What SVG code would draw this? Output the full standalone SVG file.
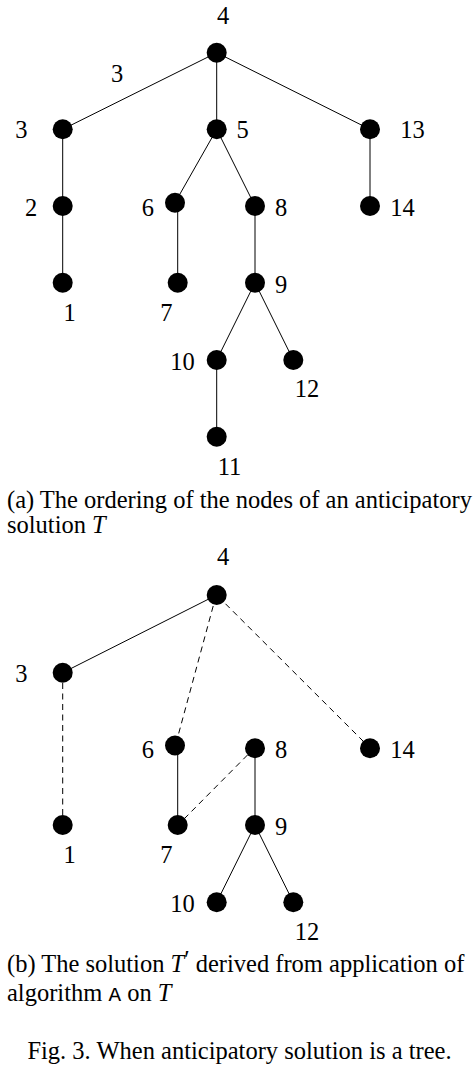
<svg xmlns="http://www.w3.org/2000/svg" width="474" height="1067" viewBox="0 0 474 1067">
<style>
text{font-family:"Liberation Serif","Times New Roman",serif;font-size:24.5px;fill:#000}
.lbl{text-anchor:middle}
.n{fill:#000}
.e{stroke:#000;stroke-width:1;fill:none}
.d{stroke:#000;stroke-width:1;fill:none;stroke-dasharray:6 4.5}
.it{font-style:italic}
.tt{font-family:"Liberation Mono","Courier New",monospace;font-size:21px}
</style>
<rect width="474" height="1067" fill="#fff"/>
<g id="connectors">
<!-- tree (a) -->
<line class="e" x1="216.7" y1="52.7" x2="62.7" y2="129.3"/>
<line class="e" x1="216.7" y1="52.7" x2="216.7" y2="129.3"/>
<line class="e" x1="216.7" y1="52.7" x2="370" y2="129.3"/>
<line class="e" x1="62.7" y1="129.3" x2="62.7" y2="206"/>
<line class="e" x1="62.7" y1="206" x2="62.7" y2="282.7"/>
<line class="e" x1="216.7" y1="129.3" x2="175" y2="202.7"/>
<line class="e" x1="216.7" y1="129.3" x2="255" y2="206"/>
<line class="e" x1="370" y1="129.3" x2="370" y2="206"/>
<line class="e" x1="177.7" y1="206" x2="177.7" y2="282.7"/>
<line class="e" x1="255" y1="206" x2="255" y2="282.7"/>
<line class="e" x1="255" y1="282.7" x2="216.7" y2="360"/>
<line class="e" x1="255" y1="282.7" x2="293.3" y2="360"/>
<line class="e" x1="216.7" y1="360" x2="216.7" y2="436.7"/>
<!-- tree (b) -->
<line class="e" x1="216.7" y1="595" x2="62.7" y2="672.7"/>
<line class="d" x1="213.2" y1="606" x2="178" y2="736"/>
<line class="d" x1="225.5" y1="603.8" x2="363" y2="741"/>
<line class="d" x1="62.7" y1="683" x2="62.7" y2="815"/>
<line class="e" x1="177.7" y1="748" x2="177.7" y2="825"/>
<line class="d" x1="247.5" y1="755" x2="185" y2="818"/>
<line class="e" x1="255" y1="748.3" x2="255" y2="825"/>
<line class="e" x1="255" y1="825" x2="216.7" y2="902.3"/>
<line class="e" x1="255" y1="825" x2="293.3" y2="902.3"/>
</g>
<g id="edge-label-a"><text class="lbl" x="117" y="81.7">3</text></g>
<!-- tree (a) nodes -->
<g id="a4"><circle class="n" cx="216.7" cy="52.7" r="10"/><text class="lbl" x="223" y="24">4</text></g>
<g id="a3"><circle class="n" cx="62.7" cy="129.3" r="10"/><text class="lbl" x="21.3" y="138.3">3</text></g>
<g id="a5"><circle class="n" cx="216.7" cy="129.3" r="10"/><text class="lbl" x="242.5" y="138.3">5</text></g>
<g id="a13"><circle class="n" cx="370" cy="129.3" r="10"/><text class="lbl" x="412.5" y="138.3">13</text></g>
<g id="a2"><circle class="n" cx="62.7" cy="206" r="10"/><text class="lbl" x="31.2" y="216">2</text></g>
<g id="a6"><circle class="n" cx="175" cy="202.7" r="10"/><text class="lbl" x="147.8" y="216">6</text></g>
<g id="a8"><circle class="n" cx="255" cy="206" r="10"/><text class="lbl" x="281" y="216">8</text></g>
<g id="a14"><circle class="n" cx="370" cy="206" r="10"/><text class="lbl" x="402.5" y="216">14</text></g>
<g id="a1"><circle class="n" cx="62.7" cy="282.7" r="10"/><text class="lbl" x="69.5" y="320.7">1</text></g>
<g id="a7"><circle class="n" cx="177.7" cy="282.7" r="10"/><text class="lbl" x="166.3" y="320.7">7</text></g>
<g id="a9"><circle class="n" cx="255" cy="282.7" r="10"/><text class="lbl" x="281" y="293">9</text></g>
<g id="a10"><circle class="n" cx="216.7" cy="360" r="10"/><text class="lbl" x="182.5" y="370">10</text></g>
<g id="a12"><circle class="n" cx="293.3" cy="360" r="10"/><text class="lbl" x="307" y="396.7">12</text></g>
<g id="a11"><circle class="n" cx="216.7" cy="436.7" r="10"/><text class="lbl" x="229.5" y="475">11</text></g>
<g id="caption-a">
<text x="7" y="507.8">(a) The ordering of the nodes of an anticipatory</text>
<text x="7" y="533.3">solution <tspan class="it">T</tspan></text>
</g>
<!-- tree (b) nodes -->
<g id="b4"><circle class="n" cx="216.7" cy="595" r="10"/><text class="lbl" x="223" y="565">4</text></g>
<g id="b3"><circle class="n" cx="62.7" cy="672.7" r="10"/><text class="lbl" x="21.3" y="681.7">3</text></g>
<g id="b6"><circle class="n" cx="175" cy="745.5" r="10"/><text class="lbl" x="147.8" y="758.3">6</text></g>
<g id="b8"><circle class="n" cx="255" cy="748.3" r="10"/><text class="lbl" x="281" y="758.3">8</text></g>
<g id="b14"><circle class="n" cx="370" cy="748.3" r="10"/><text class="lbl" x="402.5" y="758.3">14</text></g>
<g id="b1"><circle class="n" cx="62.7" cy="825" r="10"/><text class="lbl" x="69.5" y="863.3">1</text></g>
<g id="b7"><circle class="n" cx="177.7" cy="825" r="10"/><text class="lbl" x="166.3" y="863.3">7</text></g>
<g id="b9"><circle class="n" cx="255" cy="825" r="10"/><text class="lbl" x="281" y="835">9</text></g>
<g id="b10"><circle class="n" cx="216.7" cy="902.3" r="10"/><text class="lbl" x="182.5" y="911.7">10</text></g>
<g id="b12"><circle class="n" cx="293.3" cy="902.3" r="10"/><text class="lbl" x="307" y="940">12</text></g>
<g id="caption-b">
<text x="7" y="972.3">(b) The solution <tspan class="it">T</tspan><tspan dy="-4">′</tspan><tspan dy="4"> derived from application of</tspan></text>
<text x="7" y="1000.7">algorithm <tspan class="tt">A</tspan> on <tspan class="it">T</tspan></text>
</g>
<g id="figure-caption">
<text x="239.5" y="1059.3" text-anchor="middle">Fig. 3. When anticipatory solution is a tree.</text>
</g>
</svg>
